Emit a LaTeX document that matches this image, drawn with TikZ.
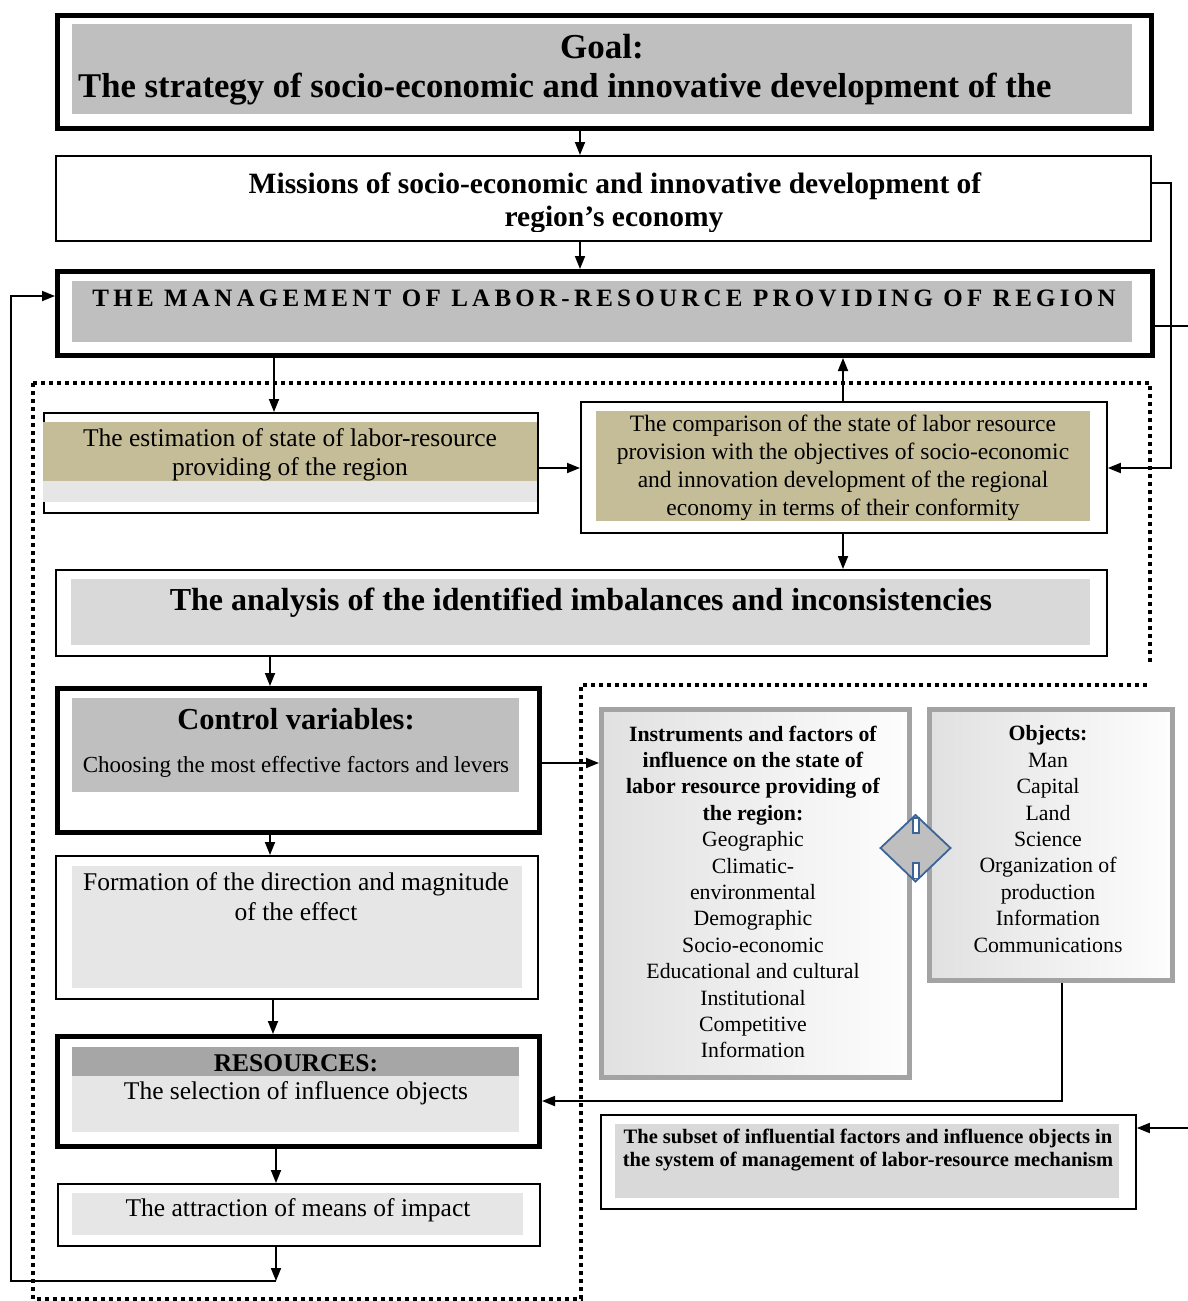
\documentclass[tikz,border=0pt]{standalone}
\usepackage{fontspec}
\setmainfont{Liberation Serif}
\usetikzlibrary{arrows.meta,calc}
\definecolor{gA}{HTML}{BFBFBF}
\definecolor{tanf}{HTML}{C4BD97}
\definecolor{lgf}{HTML}{E6E6E6}
\definecolor{mgf}{HTML}{D9D9D9}
\definecolor{dgf}{HTML}{A6A6A6}
\definecolor{dblue}{HTML}{3D6496}
\definecolor{instrb}{HTML}{A3A3A3}
\pgfdeclarehorizontalshading{instrsh}{100bp}{color(0bp)=(gray!35); color(78bp)=(white); color(100bp)=(gray!22)}
\newcommand\bx[6]{\node[#6, anchor=north west, minimum width={#4-#2}, minimum height={#5-#3}] (#1) at (#2,#3) {};}
\newcommand\fs[2]{\fontsize{#1}{#2}\selectfont}
\begin{document}
\begin{tikzpicture}[x=1pt,y=-1pt,
  every node/.style={inner sep=0pt},
  thickbox/.style={draw=black, line width=5pt},
  thinbox/.style={draw=black, line width=1.8pt},
  innerfill/.style={fill=#1, draw=none, outer sep=0pt},
  instrbox/.style={draw=instrb, line width=5pt, shade, shading=instrsh},
  arr/.style={-{Triangle[length=13pt,width=10pt]}, line width=1.8pt},
  plain/.style={line width=1.8pt},
  dotb/.style={line width=4pt, dash pattern=on 4pt off 4pt}]
\useasboundingbox (0,0) rectangle (1188,1301);

% column coordinates
\coordinate (x580) at (580,0);
\coordinate (x274) at (274,0);
\coordinate (x843) at (843,0);
\coordinate (x270) at (270,0);
\coordinate (x273) at (273,0);
\coordinate (x276) at (276,0);
\coordinate (x1062) at (1062,0);
\coordinate (y183) at (0,183);
\coordinate (y326) at (0,326);
\coordinate (y468) at (0,468);
\coordinate (y763) at (0,763);
\coordinate (y1101) at (0,1101);
\coordinate (y1128) at (0,1128);
\coordinate (y296) at (0,296);

% dotted frames
\draw[dotb] (33,383) -- (1150,383) -- (1150,665);
\draw[dotb] (33,383) -- (33,1299) -- (581,1299) -- (581,685) -- (1150,685);

% Goal
\bx{goal}{55}{12.5}{1149}{126}{thickbox}
\bx{goalin}{72}{24}{1132}{114}{innerfill=gA}
\node[font=\bfseries\fs{35}{40}] (tgoal) at (602,47) {Goal:};
\node[font=\bfseries\fs{34.7}{40}, anchor=west] (tstrat) at (78,89) {The strategy of socio-economic and innovative development of the};

% Missions
\bx{miss}{55}{155}{1150}{240}{thinbox}
\node[font=\bfseries\fs{29.5}{34}] (tmiss1) at (615,186) {Missions of socio-economic and innovative development of};
\begin{scope}
\clip (55,200) rectangle (1150,231);
\node[font=\bfseries\fs{29.5}{34}] (tmiss2) at (614,220) {region’s economy};
\end{scope}

% Management
\bx{mgmt}{55}{269}{1150}{353}{thickbox}
\bx{mgmtin}{72}{281}{1132}{342}{innerfill=gA}
\node[font=\bfseries\fs{25}{30}] (tmgmt) at (604,298) {\addfontfeature{LetterSpace=17}THE MANAGEMENT OF LABOR-RESOURCE PROVIDING OF REGION};

% Estimation
\bx{est}{43}{412}{537}{512}{thinbox}
\fill[tanf] (43,422) rectangle (537,481);
\fill[lgf] (43,481) rectangle (537,502);
\node[font=\fs{25.5}{29}, align=center] (test) at (290,455) {The estimation of state of labor-resource\\providing of the region};

% Comparison
\bx{comp}{580}{401}{1106}{532}{thinbox}
\bx{compin}{596}{411}{1090}{521}{innerfill=tanf}
\node[font=\fs{23.5}{28}, align=center] (tcomp) at (843,468) {The comparison of the state of labor resource\\provision with the objectives of socio-economic\\and innovation development of the regional\\economy in terms of their conformity};

% Analysis
\bx{anal}{55}{569}{1106}{655}{thinbox}
\bx{analin}{71}{579}{1090}{645}{innerfill=mgf}
\node[font=\bfseries\fs{32}{36}] (tanal) at (581,603) {The analysis of the identified imbalances and inconsistencies};

% Control variables
\bx{ctrl}{55}{686}{537}{830}{thickbox}
\bx{ctrlin}{72}{698}{519}{792}{innerfill=gA}
\node[font=\bfseries\fs{30.5}{34}] (tctrl1) at (296,719) {Control variables:};
\node[font=\fs{23}{26}] (tctrl2) at (296,767) {Choosing the most effective factors and levers};

% Formation
\bx{form}{55}{855}{537}{998}{thinbox}
\bx{formin}{72}{866}{522}{988}{innerfill=lgf}
\node[font=\fs{25.5}{30}, align=center] (tform) at (296,897) {Formation of the direction and magnitude\\of the effect};

% Resources
\bx{res}{55}{1034}{537}{1144}{thickbox}
\fill[dgf] (72,1047) rectangle (519,1076);
\fill[lgf] (72,1076) rectangle (519,1132);
\node[font=\bfseries\fs{25.5}{28}] (tres1) at (296,1063) {RESOURCES:};
\node[font=\fs{25.5}{28}] (tres2) at (296,1093) {The selection of influence objects};

% Attraction
\bx{attr}{57}{1183}{539}{1245}{thinbox}
\bx{attrin}{72}{1193}{523}{1235}{innerfill=lgf}
\node[font=\fs{25.5}{28}] (tattr) at (298,1210) {The attraction of means of impact};

% Instruments
\bx{instr}{599}{707}{907}{1075}{instrbox}
\node[font=\fs{21.8}{26.4}, align=center] (tinstr) at (753,892) {\textbf{Instruments and factors of}\\\textbf{influence on the state of}\\\textbf{labor resource providing of}\\\textbf{the region:}\\Geographic\\Climatic-\\environmental\\Demographic\\Socio-economic\\Educational and cultural\\Institutional\\Competitive\\Information};

% Objects
\bx{obj}{927}{707}{1170}{978}{instrbox}
\node[font=\fs{21.8}{26.4}, align=center] (tobj) at (1048,839) {\textbf{Objects:}\\Man\\Capital\\Land\\Science\\Organization of\\production\\Information\\Communications};

% Diamond
\draw[dblue, line width=1.8pt, fill=gA] (880.5,848) -- (915.5,815) -- (950.5,848) -- (915.5,881.5) -- cycle;
\draw[dblue, line width=1.5pt, fill=white] (912.8,818) rectangle (918.8,833);
\draw[dblue, line width=1.5pt, fill=white] (912.8,863) rectangle (918.8,878.5);

% Subset
\bx{sub}{600}{1114}{1135}{1208}{thinbox}
\bx{subin}{615}{1124}{1119}{1198}{innerfill=mgf}
\node[font=\bfseries\fs{20.5}{23}, align=center] (tsub) at (868,1150) {The subset of influential factors and influence objects in\\the system of management of labor-resource mechanism};

% edge coordinates
\coordinate (eR1) at (1188,326);
\coordinate (eR2) at (1188,1128);
\coordinate (fb1) at (276,1281);
\coordinate (fb2) at (11,1281);
\coordinate (fb3) at (11,296);
\coordinate (rc1) at (1171,183);
\coordinate (rc2) at (1171,468);
\coordinate (ob1) at (1062,1101);

% connectors
\draw[arr] (goal.south -| x580) -- (miss.north -| x580);
\draw[arr] (miss.south -| x580) -- (mgmt.north -| x580);
\draw[arr] (mgmt.south -| x274) -- (est.north -| x274);
\draw[arr] (comp.north -| x843) -- (mgmt.south -| x843);
\draw[arr] (est.east |- y468) -- (comp.west |- y468);
\draw[arr] (miss.east |- y183) -- (rc1) -- (rc2) -- (comp.east |- y468);
\draw[plain] (mgmt.east |- y326) -- (eR1);
\draw[arr] (eR2) -- (sub.east |- y1128);
\draw[arr] (comp.south -| x843) -- (anal.north -| x843);
\draw[arr] (anal.south -| x270) -- (ctrl.north -| x270);
\draw[arr] (ctrl.east |- y763) -- (instr.west |- y763);
\draw[arr] (ctrl.south -| x270) -- (form.north -| x270);
\draw[arr] (form.south -| x273) -- (res.north -| x273);
\draw[arr] (res.south -| x276) -- (attr.north -| x276);
\draw[arr] (attr.south -| x276) -- (fb1);
\draw[arr] (fb1) -- (fb2) -- (fb3) -- (mgmt.west |- y296);
\draw[arr] (obj.south -| x1062) -- (ob1) -- (res.east |- y1101);
\end{tikzpicture}
\end{document}
